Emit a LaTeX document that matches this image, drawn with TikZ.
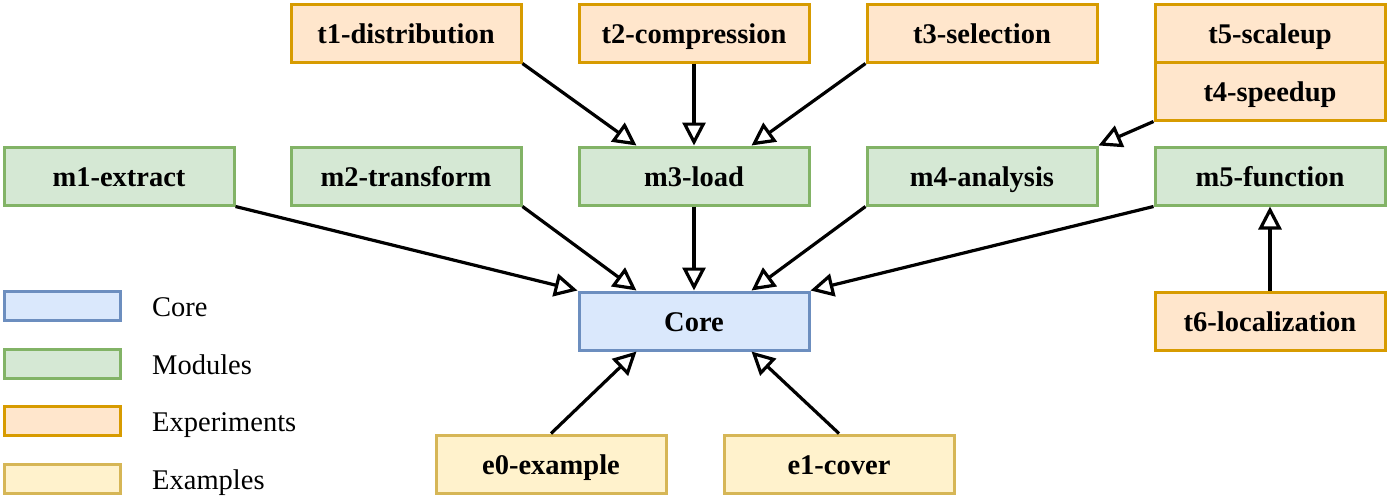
\documentclass[tikz,border=0pt]{standalone}
\usepackage{fontspec}
\setmainfont{Liberation Serif}
\usetikzlibrary{arrows.meta}
\definecolor{coreFill}{HTML}{DAE8FC}
\definecolor{coreLine}{HTML}{6C8EBF}
\definecolor{modFill}{HTML}{D5E8D4}
\definecolor{modLine}{HTML}{82B366}
\definecolor{expFill}{HTML}{FFE6CC}
\definecolor{expLine}{HTML}{D79B00}
\definecolor{exaFill}{HTML}{FFF2CC}
\definecolor{exaLine}{HTML}{D6B656}

\begin{document}
\begin{tikzpicture}[x=1pt,y=-1pt]
    \tikzstyle{box}=[draw,line width=3pt,inner sep=0pt,minimum width=230pt,minimum height=58pt,
                     text height=21pt,text depth=0pt,
                     font=\fontsize{28.5}{34}\selectfont\bfseries]
    \tikzstyle{core}=[box,draw=coreLine,fill=coreFill]
    \tikzstyle{mod}=[box,draw=modLine,fill=modFill]
    \tikzstyle{exp}=[box,draw=expLine,fill=expFill]
    \tikzstyle{exa}=[box,draw=exaLine,fill=exaFill]
    \tikzstyle{key}=[minimum width=116pt,minimum height=29pt]
    \tikzstyle{keytext}=[anchor=west,inner sep=0pt,text height=21pt,text depth=0pt,
                         font=\fontsize{28.5}{34}\selectfont]
    \tikzstyle{dep}=[line width=3.2pt,-{Triangle[open,length=23pt,width=23pt]}]
    \useasboundingbox (0,0) rectangle (1391,498);
    \draw node[core](C)at(694,321){Core}
          node[mod](m1)at(119,176){m1-extract}
          node[mod](m2)at(406,176){m2-transform}
          node[mod](m3)at(694,176){m3-load}
          node[mod](m4)at(982,176){m4-analysis}
          node[mod](m5)at(1270,176){m5-function}
          node[exp](t1)at(406,33){t1-distribution}
          node[exp](t2)at(694,33){t2-compression}
          node[exp](t3)at(982,33){t3-selection}
          node[exp](t5)at(1270,33){t5-scaleup}
          node[exp](t4)at(1270,91){t4-speedup}
          node[exp](t6)at(1270,321){t6-localization}
          node[exa](e0)at(551,464){e0-example}
          node[exa](e1)at(839,464){e1-cover};
    % legend
    \draw node[core,key](kC)at(62,305.5){}
          node[mod,key](kM)at(62,363.5){}
          node[exp,key](kT)at(62,421){}
          node[exa,key](kE)at(62,478.5){}
          node[keytext](kCt)at(152,305.5){Core}
          node[keytext](kMt)at(152,363.5){Modules}
          node[keytext](kTt)at(152,421){Experiments}
          node[keytext](kEt)at(152,478.5){Examples};
    \draw[dep](m1.south east)--(C.north west);
    \draw[dep](m2.south east)--([xshift=-57.5pt]C.north);
    \draw[dep](m3)--(C);
    \draw[dep](m4.south west)--([xshift=57.5pt]C.north);
    \draw[dep](m5.south west)--(C.north east);
    \draw[dep](t1.south east)--([xshift=-57.5pt]m3.north);
    \draw[dep](t2)--(m3);
    \draw[dep](t3.south west)--([xshift=57.5pt]m3.north);
    \draw[dep](t4.south west)--(m4.north east);
    \draw[dep](t6)--(m5);
    \draw[dep](e0.north)--([xshift=-57.5pt]C.south);
    \draw[dep](e1.north)--([xshift=57.5pt]C.south);
  \end{tikzpicture}
\end{document}
